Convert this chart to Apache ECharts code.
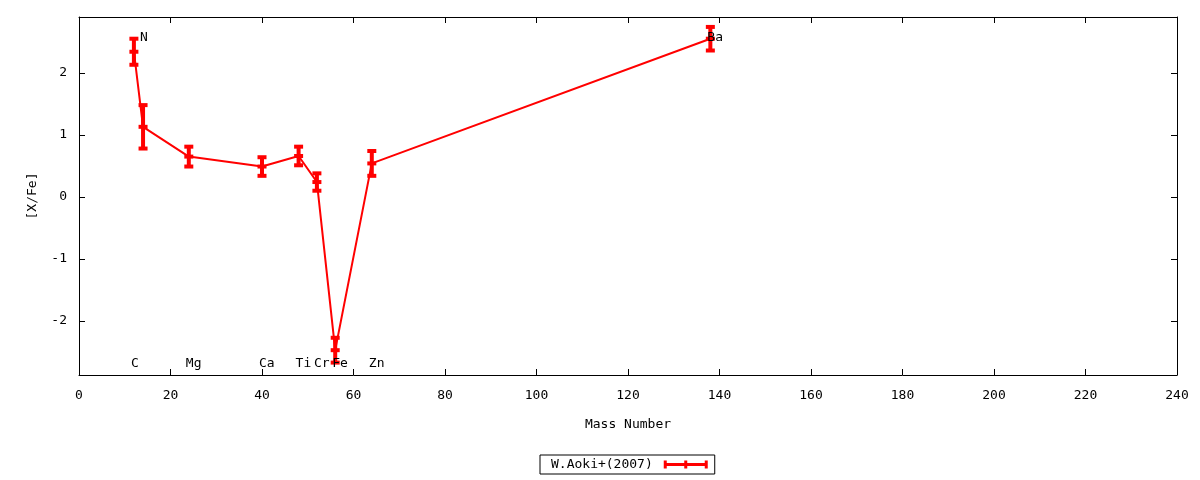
<!DOCTYPE html>
<html>
<head>
<meta charset="utf-8">
<script src="https://cdn.jsdelivr.net/npm/echarts@6/dist/echarts.min.js"></script>
<style>
html,body{margin:0;padding:0;background:#fff;}
#chart{width:1200px;height:480px;}
</style>
</head>
<body>
<div id="chart"></div>
<script>
// Data
const masses = [12, 14, 24, 40, 48, 52, 56, 64, 138];
const values = [2.34, 1.13, 0.65, 0.49, 0.66, 0.24, -2.47, 0.54, 2.55];
const errors = [0.21, 0.35, 0.16, 0.15, 0.15, 0.14, 0.20, 0.20, 0.19];
const labelNames = ['C', 'N', 'Mg', 'Ca', 'Ti', 'Cr', 'Fe', 'Zn', 'Ba'];
const labelX = [12, 14, 24, 40, 48, 52, 56, 64, 138];
const labelY = [-2.69, 2.56, -2.69, -2.69, -2.69, -2.69, -2.69, -2.69, 2.56];
const yTicks = [-2, -1, 0, 1, 2];
const seriesName = 'W.Aoki+(2007)';

const FONT = 'DejaVu Sans Mono';
const chart = echarts.init(document.getElementById('chart'), null, {renderer: 'canvas'});

const lineData = masses.map((m, i) => [m, values[i]]);
const errData = masses.map((m, i) => [m, values[i], errors[i]]);
const labelData = labelX.map((x, i) => [x, labelY[i]]);

const axisCommon = {
  axisLine: {show: true, onZero: false, lineStyle: {color: '#000', width: 1}},
  axisTick: {show: true, inside: true, length: 6, lineStyle: {color: '#000', width: 1}},
  splitLine: {show: false},
  axisLabel: {color: '#000', fontFamily: FONT, fontSize: 13}
};

chart.setOption({
  animation: false,
  backgroundColor: '#fff',
  textStyle: {fontFamily: FONT},
  grid: {left: 79, right: 23, top: 17, bottom: 105, containLabel: false},
  xAxis: [
    Object.assign({}, axisCommon, {
      type: 'value', min: 0, max: 240, interval: 20, position: 'bottom',
      name: 'Mass Number', nameLocation: 'middle', nameGap: 43,
      nameTextStyle: {color: '#000', fontFamily: FONT, fontSize: 13},
      axisLabel: {color: '#000', fontFamily: FONT, fontSize: 13, margin: 14}
    }),
    Object.assign({}, axisCommon, {
      type: 'value', min: 0, max: 240, interval: 20, position: 'top',
      axisLabel: {show: false}
    })
  ],
  yAxis: [
    Object.assign({}, axisCommon, {
      type: 'value', min: -2.87, max: 2.9, position: 'left',
      name: '[X/Fe]', nameLocation: 'middle', nameGap: 40, nameRotate: 90,
      nameTextStyle: {color: '#000', fontFamily: FONT, fontSize: 13},
      axisTick: {show: true, inside: true, length: 6, lineStyle: {color: '#000'}, customValues: yTicks},
      axisLabel: {color: '#000', fontFamily: FONT, fontSize: 13, margin: 12, customValues: yTicks}
    }),
    Object.assign({}, axisCommon, {
      type: 'value', min: -2.87, max: 2.9, position: 'right',
      axisTick: {show: true, inside: true, length: 6, lineStyle: {color: '#000'}, customValues: yTicks},
      axisLabel: {show: false, customValues: yTicks}
    })
  ],
  legend: {
    show: true,
    left: 540, top: 455,
    orient: 'horizontal',
    align: 'right',
    padding: [3, 7, 3, 11],
    borderColor: '#000', borderWidth: 1, borderRadius: 0,
    itemWidth: 44, itemHeight: 8,
    textStyle: {color: '#000', fontFamily: FONT, fontSize: 13, padding: [0, 6, 0, 0]},
    itemStyle: {color: '#ff0000', borderWidth: 0},
    data: [{
      name: seriesName,
      icon: 'path://M0,0h3v2.5h17.5v-2.5h3v2.5h17.5v-2.5h3v8h-3v-2.5h-17.5v2.5h-3v-2.5h-17.5v2.5h-3z'
    }]
  },
  series: [
    {
      name: seriesName,
      type: 'line',
      data: lineData,
      symbol: 'none',
      lineStyle: {color: '#ff0000', width: 2},
      itemStyle: {color: '#ff0000'},
      z: 2
    },
    {
      name: seriesName,
      type: 'custom',
      data: errData,
      z: 3,
      renderItem: function (params, api) {
        const x = api.value(0), y = api.value(1), e = api.value(2);
        const c = api.coord([x, y]);
        const top = api.coord([x, y + e]);
        const bot = api.coord([x, y - e]);
        const hw = 4.5;
        const st = {stroke: '#ff0000', lineWidth: 4};
        return {
          type: 'group',
          children: [
            {type: 'line', shape: {x1: c[0], y1: top[1], x2: c[0], y2: bot[1]}, style: st},
            {type: 'line', shape: {x1: c[0] - hw, y1: top[1], x2: c[0] + hw, y2: top[1]}, style: st},
            {type: 'line', shape: {x1: c[0] - hw, y1: bot[1], x2: c[0] + hw, y2: bot[1]}, style: st},
            {type: 'line', shape: {x1: c[0] - hw, y1: c[1], x2: c[0] + hw, y2: c[1]}, style: st}
          ]
        };
      }
    },
    {
      type: 'custom',
      data: labelData,
      z: 4,
      silent: true,
      renderItem: function (params, api) {
        const p = api.coord([api.value(0), api.value(1)]);
        return {
          type: 'text',
          x: p[0] - 3, y: p[1],
          style: {
            text: labelNames[params.dataIndex],
            fill: '#000',
            font: '13px "DejaVu Sans Mono"',
            textAlign: 'left',
            textVerticalAlign: 'middle'
          }
        };
      }
    }
  ]
});
</script>
</body>
</html>
